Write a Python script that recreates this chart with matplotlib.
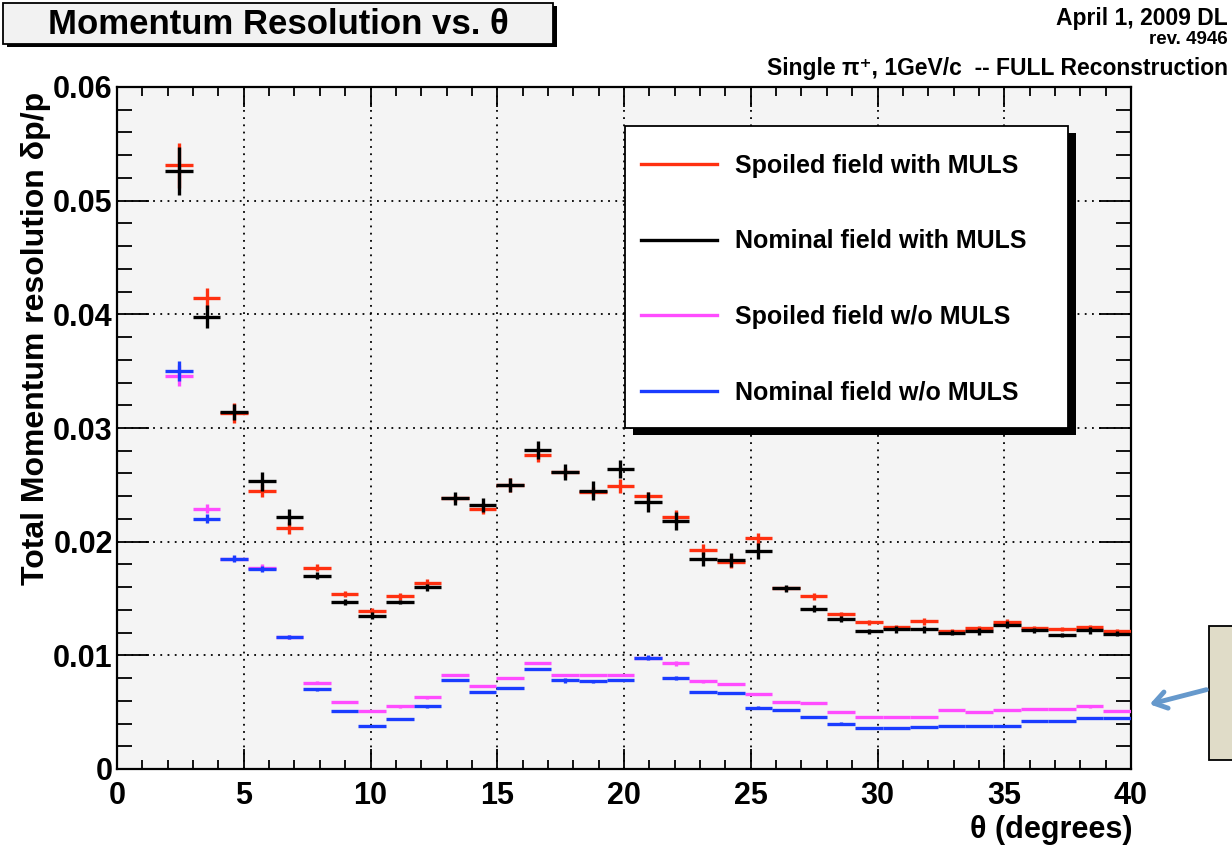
import numpy as np
import matplotlib
matplotlib.use("Agg")
import matplotlib.pyplot as plt
from matplotlib.patches import Rectangle, FancyArrowPatch
from matplotlib.lines import Line2D
from matplotlib.ticker import MultipleLocator, FuncFormatter

W, H = 1232, 850
plt.rcParams["font.family"] = ["Liberation Sans", "DejaVu Sans"]
plt.rcParams["font.weight"] = "bold"

# 35 theta bins (degrees)
theta_edges = np.linspace(1.9, 40.0, 36)

spoiled_muls = [0.0531, 0.0414, 0.0313, 0.0245, 0.0212, 0.0177, 0.0154, 0.0139, 0.0152, 0.0164,
                0.0238, 0.0229, 0.0250, 0.0276, 0.0261, 0.0244, 0.0249, 0.0240, 0.0222, 0.0193,
                0.0182, 0.0203, 0.0159, 0.0152, 0.0136, 0.0129, 0.0125, 0.0130, 0.0121, 0.0124,
                0.0129, 0.0124, 0.0123, 0.0125, 0.0121]
spoiled_muls_err = [0.0020, 0.0009, 0.0009, 0.0006, 0.0005, 0.0003, 0.0003, 0.0003, 0.0003, 0.0003,
                    0.0003, 0.0005, 0.0006, 0.0006, 0.0004, 0.0004, 0.0006, 0.0004, 0.0006, 0.0005,
                    0.0005, 0.0005, 0.0002, 0.0003, 0.0002, 0.0002, 0.0002, 0.0003, 0.0002, 0.0002,
                    0.0003, 0.0002, 0.0002, 0.0002, 0.0002]

nominal_muls = [0.0526, 0.0398, 0.0314, 0.0253, 0.0222, 0.0170, 0.0147, 0.0135, 0.0147, 0.0160,
                0.0238, 0.0232, 0.0250, 0.0281, 0.0261, 0.0245, 0.0264, 0.0235, 0.0218, 0.0185,
                0.0184, 0.0192, 0.0159, 0.0141, 0.0132, 0.0121, 0.0123, 0.0123, 0.0120, 0.0121,
                0.0127, 0.0122, 0.0118, 0.0122, 0.0119]
nominal_muls_err = [0.0021, 0.0010, 0.0007, 0.0008, 0.0007, 0.0003, 0.0003, 0.0003, 0.0002, 0.0003,
                    0.0006, 0.0006, 0.0006, 0.0008, 0.0007, 0.0008, 0.0008, 0.0009, 0.0008, 0.0006,
                    0.0006, 0.0007, 0.0003, 0.0003, 0.0003, 0.0002, 0.0003, 0.0003, 0.0002, 0.0003,
                    0.0003, 0.0002, 0.0002, 0.0003, 0.0002]

spoiled_nomuls = [0.0346, 0.0229, 0.0185, 0.0177, 0.0116, 0.0076, 0.0059, 0.0051, 0.0055, 0.0063,
                  0.0083, 0.0073, 0.0080, 0.0093, 0.0083, 0.0083, 0.0083, 0.0098, 0.0093, 0.0077,
                  0.0075, 0.0066, 0.0059, 0.0058, 0.0050, 0.0046, 0.0046, 0.0046, 0.0052, 0.0050,
                  0.0052, 0.0053, 0.0053, 0.0055, 0.0051]
spoiled_nomuls_err = [0.0009, 0.0004, 0.0002, 0.0003, 0.0002, 0.0001, 0.0001, 0.0001, 0.0001, 0.0001,
                      0.0001, 0.0001, 0.0001, 0.0001, 0.0001, 0.0001, 0.0001, 0.0001, 0.0002, 0.0001,
                      0.0001, 0.0001, 0.0001, 0.0001, 0.0001, 0.0001, 0.0001, 0.0001, 0.0001, 0.0001,
                      0.0001, 0.0001, 0.0001, 0.0001, 0.0001]

nominal_nomuls = [0.0350, 0.0220, 0.0185, 0.0176, 0.0116, 0.0070, 0.0051, 0.0038, 0.0044, 0.0055,
                  0.0078, 0.0068, 0.0071, 0.0088, 0.0078, 0.0077, 0.0078, 0.0098, 0.0080, 0.0068,
                  0.0067, 0.0054, 0.0052, 0.0046, 0.0040, 0.0036, 0.0036, 0.0037, 0.0038, 0.0038,
                  0.0038, 0.0042, 0.0042, 0.0045, 0.0045]
nominal_nomuls_err = [0.0009, 0.0004, 0.0003, 0.0003, 0.0002, 0.0001, 0.0001, 0.0001, 0.0001, 0.0001,
                      0.0001, 0.0001, 0.0001, 0.0001, 0.0002, 0.0001, 0.0001, 0.0002, 0.0002, 0.0001,
                      0.0001, 0.0001, 0.0001, 0.0001, 0.0001, 0.0001, 0.0001, 0.0001, 0.0001, 0.0001,
                      0.0001, 0.0001, 0.0001, 0.0001, 0.0001]

labels = ["Spoiled field with MULS", "Nominal field with MULS",
          "Spoiled field w/o MULS", "Nominal field w/o MULS"]
colors = ["#ff3010", "black", "#ff4cff", "#1a3cff"]


def fpx(x, y):
    # pixel position (from top-left) -> figure fraction
    return x / W, 1 - y / H


fig = plt.figure(figsize=(W / 100, H / 100), dpi=100)
fig.patch.set_facecolor("white")
x0, y0 = fpx(117, 769)
ax = fig.add_axes([x0, y0, (1131 - 117) / W, (769 - 87) / H])
ax.set_facecolor("#f4f4f4")

centers = 0.5 * (theta_edges[:-1] + theta_edges[1:])
half = 0.5 * np.diff(theta_edges)
series = [(spoiled_muls, spoiled_muls_err), (nominal_muls, nominal_muls_err),
          (spoiled_nomuls, spoiled_nomuls_err), (nominal_nomuls, nominal_nomuls_err)]
for (vals, errs), color in zip(series, colors):
    ax.errorbar(centers, vals, xerr=half, yerr=errs, fmt="none",
                ecolor=color, elinewidth=2.4, capsize=0, zorder=3)

ax.set_xlim(0, 40)
ax.set_ylim(0, 0.06)
ax.xaxis.set_major_locator(MultipleLocator(5))
ax.xaxis.set_minor_locator(MultipleLocator(1))
ax.yaxis.set_major_locator(MultipleLocator(0.01))
ax.yaxis.set_minor_locator(MultipleLocator(0.002))
ax.yaxis.set_major_formatter(FuncFormatter(lambda v, _: "0" if abs(v) < 1e-9 else f"{v:.2f}"))
ax.xaxis.set_major_formatter(FuncFormatter(lambda v, _: f"{v:.0f}"))
ax.tick_params(which="both", direction="in", top=True, right=True, width=1.3, color="black")
ax.tick_params(axis="x", which="major", length=14.5, labelsize=22, pad=9)
ax.tick_params(axis="x", which="minor", length=6.5)
ax.tick_params(axis="y", which="major", length=23, labelsize=22, pad=3)
ax.tick_params(axis="y", which="minor", length=11)
for lab in ax.get_xticklabels() + ax.get_yticklabels():
    lab.set_fontweight("bold")
ax.grid(True, which="major", color="black", linestyle=(0, (1, 3)), linewidth=1.3)
ax.set_axisbelow(True)
for sp in ax.spines.values():
    sp.set_linewidth(1.6)

# axis titles
fig.text(*fpx(36, 92), "Total Momentum resolution δp/p", rotation=90,
         ha="center", va="top", fontsize=23, fontweight="bold")
fig.text(*fpx(1133, 830), "θ (degrees)", ha="right", va="center",
         fontsize=22, fontweight="bold")

# title box
fig.add_artist(Rectangle(fpx(7, 47), 550 / W, 41 / H, transform=fig.transFigure,
                         facecolor="black", edgecolor="none"))
fig.add_artist(Rectangle(fpx(3, 44), 550 / W, 41 / H, transform=fig.transFigure,
                         facecolor="#f2f2f2", edgecolor="black", lw=1.3))
fig.text(*fpx(278, 24), "Momentum Resolution vs. θ", ha="center", va="center",
         fontsize=25, fontweight="bold")

# top right notes
fig.text(*fpx(1228, 19), "April 1, 2009 DL", ha="right", va="center", fontsize=16.5, fontweight="bold")
fig.text(*fpx(1228, 40), "rev. 4946", ha="right", va="center", fontsize=13.5, fontweight="bold")
fig.text(*fpx(1228, 68), "Single π⁺, 1GeV/c  -- FULL Reconstruction", ha="right", va="center",
         fontsize=16.5, fontweight="bold")

# legend with hard shadow
fig.add_artist(Rectangle(fpx(633, 435), 443 / W, 302 / H, transform=fig.transFigure,
                         facecolor="black", edgecolor="none"))
fig.add_artist(Rectangle(fpx(625, 428), 443 / W, 302 / H, transform=fig.transFigure,
                         facecolor="white", edgecolor="black", lw=1.3))
for i, (lab, color) in enumerate(zip(labels, colors)):
    ypix = 164 + i * 75.5
    xa, ya = fpx(641, ypix)
    xb, _ = fpx(717, ypix)
    fig.add_artist(Line2D([xa, xb], [ya, ya], transform=fig.transFigure, color=color, lw=2.4))
    fig.text(*fpx(735, ypix + 2), lab, ha="left", va="center", fontsize=18, fontweight="bold")

# partial call-out at the right edge
fig.add_artist(Rectangle(fpx(1209, 760), 40 / W, 134 / H, transform=fig.transFigure,
                         facecolor="#e0dcc8", edgecolor="black", lw=1.3))
fig.add_artist(FancyArrowPatch(fpx(1209, 689), fpx(1147, 705), transform=fig.transFigure,
                               arrowstyle="->,head_length=9,head_width=6",
                               color="#6699cc", lw=3.5))

fig.savefig("out.png", dpi=100)
